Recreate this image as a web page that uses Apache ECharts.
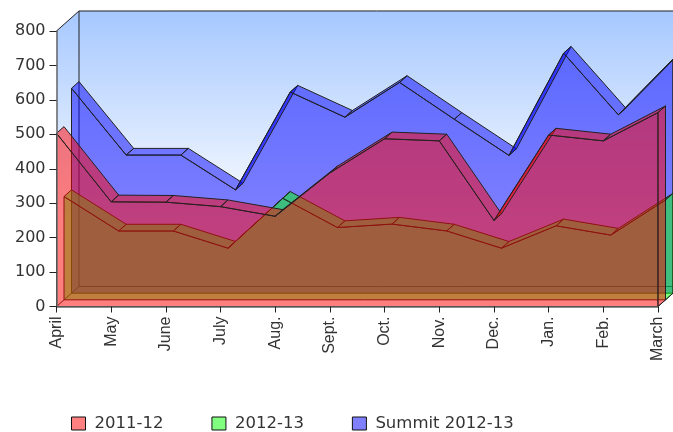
<!DOCTYPE html>
<html><head><meta charset="utf-8">
<style>html,body{margin:0;padding:0;background:#fff}#c{width:673px;height:432px}</style>
<script src="https://cdn.jsdelivr.net/npm/echarts@6/dist/echarts.min.js"></script>
</head><body><div id="c"></div>
<script>
const categories = ['April','May','June','July','Aug.','Sept.','Oct.','Nov.','Dec.','Jan.','Feb.','March'];
const values2011 = [503,304,303,290,262,388,487,481,250,498,481,563];
const values2012 = [300,200,200,150,295,210,220,200,150,215,188,290];
const valuesSummit = [595,401,401,300,584,511,612,505,400,697,518,680];
const yTicks = [0,100,200,300,400,500,600,700,800];

const DX = 7.5, DY = -6.67; // depth of one series layer, px
const EDGE = '#222222';
const chart = echarts.init(document.getElementById('c'), null, {renderer:'canvas'});

function layerItem(values, layer, color){
  return function(params, api){
    if(params.dataIndex !== 0) return;
    const ox = DX*layer, oy = DY*layer;
    const front = values.map((v,i)=>{const p=api.coord([i,v]);return [p[0]+ox,p[1]+oy];});
    const n = values.length;
    const b0 = api.coord([0,0]), b1 = api.coord([n-1,0]);
    const children = [];
    const style = {fill:color, stroke:EDGE, lineWidth:1, lineJoin:'round'};
    const poly = pts => ({type:'polygon', shape:{points:pts}, style:Object.assign({},style), silent:true});
    // front face
    children.push(poly([[b0[0]+ox,b0[1]+oy]].concat(front).concat([[b1[0]+ox,b1[1]+oy]])));
    // top faces
    for(let i=0;i<n-1;i++){
      children.push(poly([front[i],front[i+1],[front[i+1][0]+DX,front[i+1][1]+DY],[front[i][0]+DX,front[i][1]+DY]]));
    }
    // right face
    const l = front[n-1];
    children.push(poly([[b1[0]+ox,b1[1]+oy],l,[l[0]+DX,l[1]+DY],[b1[0]+ox+DX,b1[1]+oy+DY]]));
    return {type:'group', children};
  };
}

function wallsItem(params, api){
  if(params.dataIndex !== 0) return;
  const n = categories.length;
  const a = api.coord([0,0]), b = api.coord([n-1,0]), c = api.coord([0,yTicks[yTicks.length-1]]), d = api.coord([n-1,yTicks[yTicks.length-1]]);
  const ddx = DX*3, ddy = DY*3;
  const grad = new echarts.graphic.LinearGradient(0,c[1]+ddy,0,c[1]+ddy+215,[{offset:0,color:'#a6c8ff'},{offset:1,color:'#ffffff'}],true);
  const ln = (p,q)=>({type:'line',shape:{x1:p[0],y1:p[1],x2:q[0],y2:q[1]},style:{stroke:EDGE,lineWidth:1},silent:true});
  const A=[a[0]+ddx,a[1]+ddy],B=[b[0]+ddx,b[1]+ddy],C=[c[0]+ddx,c[1]+ddy],D=[d[0]+ddx,d[1]+ddy];
  return {type:'group',children:[
    {type:'polygon',shape:{points:[A,B,D,C]},style:{fill:grad},silent:true},
    {type:'polygon',shape:{points:[a,A,C,c]},style:{fill:grad},silent:true},
    {type:'polygon',shape:{points:[a,b,B,A]},style:{fill:'#ffffff'},silent:true},
    ln(C,D),ln(c,C),ln(A,C),ln(a,A),ln(A,B),ln(b,B)
  ]};
}

const font = 'DejaVu Sans';
function layerSeries(name, values, layer, color, solid){
  return {name, type:'custom', coordinateSystem:'cartesian2d', clip:false,
    renderItem:layerItem(values, layer, color), itemStyle:{color:solid},
    data:values.map((v,i)=>[i,v]), encode:{x:0,y:1}, silent:true, animation:false};
}
chart.setOption({
  animation:false,
  backgroundColor:'#ffffff',
  grid:{left:56.5,top:31,width:601.5,height:275.5},
  legend:{
    left:71, top:415, padding:0, itemWidth:14, itemHeight:13, itemGap:48, icon:'rect',
    data:['2011-12','2012-13','Summit 2012-13'],
    itemStyle:{borderColor:'#111',borderWidth:1},
    textStyle:{fontFamily:font,fontSize:16.5,color:'#333',padding:[0,0,0,4]},
    selectedMode:false
  },
  xAxis:{type:'category',data:categories,boundaryGap:false,z:10,
    axisLine:{show:true,onZero:false,lineStyle:{color:'#666',width:1.5}},
    axisTick:{show:true,alignWithLabel:true,length:6,lineStyle:{color:'#222'}},
    axisLabel:{rotate:90,interval:0,margin:10,fontFamily:'Liberation Sans',fontSize:16,color:'#333'},
    splitLine:{show:false}},
  yAxis:{type:'value',min:0,max:800,interval:100,z:10,
    axisLine:{show:true,lineStyle:{color:'#666',width:1.5}},
    axisTick:{show:true,length:7,lineStyle:{color:'#222'}},
    axisLabel:{margin:11,fontFamily:font,fontSize:16,color:'#333'},
    splitLine:{show:false}},
  series:[
    {name:'walls',type:'custom',coordinateSystem:'cartesian2d',clip:false,renderItem:wallsItem,
      data:[[0,0]],encode:{x:0,y:1},silent:true,z:1},
    layerSeries('Summit 2012-13',valuesSummit,2,'rgba(0,0,255,0.5)','#8080ff'),
    layerSeries('2012-13',values2012,1,'rgba(0,255,0,0.5)','#80ff80'),
    layerSeries('2011-12',values2011,0,'rgba(255,0,0,0.5)','#ff8080')
  ]
});
</script></body></html>
